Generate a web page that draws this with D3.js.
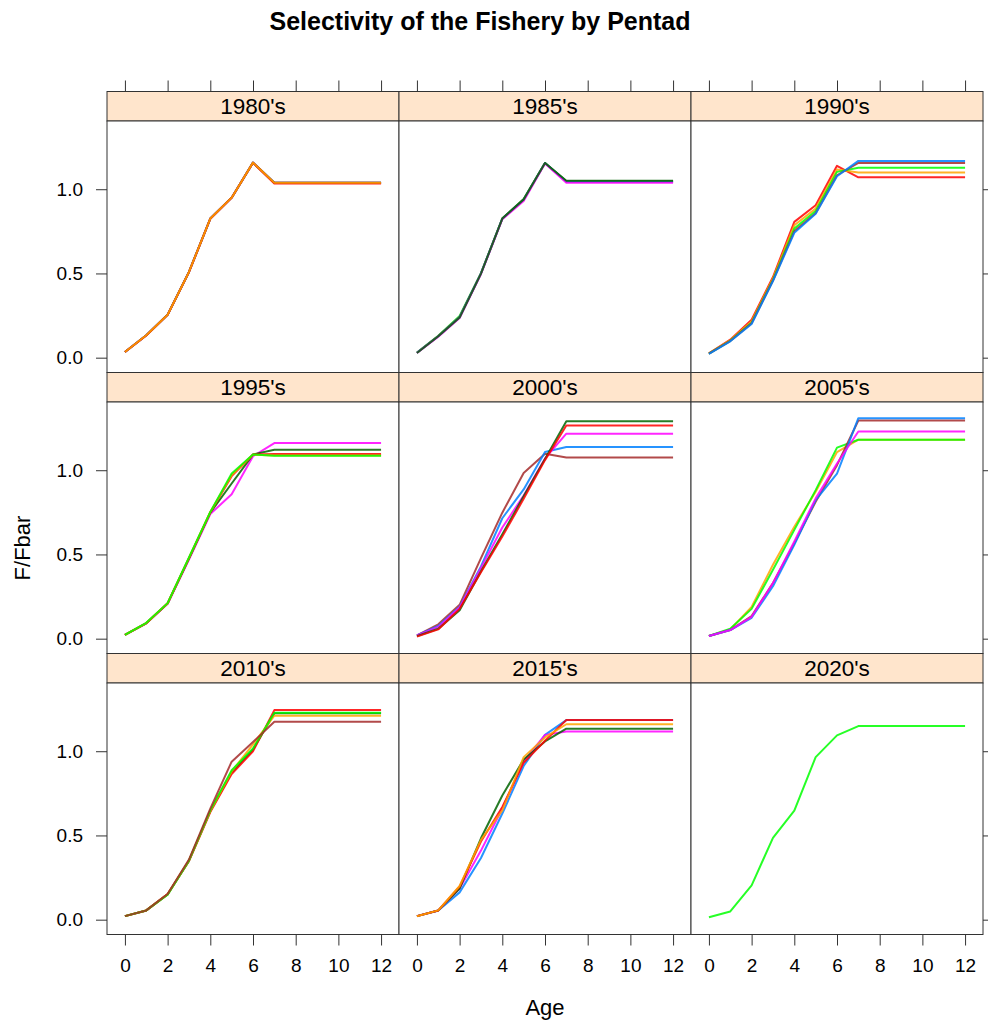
<!DOCTYPE html>
<html><head><meta charset="utf-8">
<script src="https://cdn.jsdelivr.net/npm/d3@7"></script>
<style>
body{margin:0;background:#fff}
text{font-family:"Liberation Sans",Arial,Helvetica,sans-serif}
</style>
</head><body>
<svg id="c" width="988" height="1025"></svg>
<script>
// ---------- data ----------
const ages = [0,1,2,3,4,5,6,7,8,9,10,11,12];
const pentads = ["1980's","1985's","1990's","1995's","2000's","2005's","2010's","2015's","2020's"];
const pentadStart = [1980,1985,1990,1995,2000,2005,2010,2015,2020];
const xTicks = [0,2,4,6,8,10,12];
const yTicks = [0,0.5,1.0];
const yTickLabels = ["0.0","0.5","1.0"];
const lineColors = ["#0080ff","#ff00ff","darkgreen","#ff0000","orange","#00ff00","brown"];

// F/Fbar by age (0..12), one row per year of the pentad
const sel1980s = [
  [0.034,0.133,0.255,0.509,0.826,0.950,1.158,1.038,1.038,1.038,1.038,1.038,1.038],
  [0.034,0.133,0.255,0.509,0.826,0.950,1.158,1.038,1.038,1.038,1.038,1.038,1.038],
  [0.034,0.133,0.255,0.509,0.826,0.950,1.158,1.038,1.038,1.038,1.038,1.038,1.038],
  [0.034,0.132,0.254,0.508,0.825,0.949,1.157,1.034,1.034,1.034,1.034,1.034,1.034],
  [0.034,0.133,0.255,0.509,0.826,0.950,1.158,1.038,1.038,1.038,1.038,1.038,1.038]
];
const sel1985s = [
  [0.030,0.130,0.248,0.502,0.826,0.942,1.156,1.048,1.048,1.048,1.048,1.048,1.048],
  [0.029,0.128,0.242,0.500,0.826,0.940,1.156,1.046,1.046,1.046,1.046,1.046,1.046],
  [0.029,0.127,0.240,0.500,0.825,0.938,1.155,1.044,1.044,1.044,1.044,1.044,1.044],
  [0.028,0.125,0.235,0.497,0.822,0.930,1.152,1.038,1.038,1.038,1.038,1.038,1.038],
  [0.028,0.127,0.238,0.499,0.826,0.939,1.156,1.050,1.050,1.050,1.050,1.050,1.050]
];
const sel1990s = [
  [0.026,0.107,0.226,0.479,0.806,0.905,1.139,1.071,1.071,1.071,1.071,1.071,1.071],
  [0.025,0.103,0.215,0.470,0.786,0.885,1.117,1.099,1.099,1.099,1.099,1.099,1.099],
  [0.024,0.100,0.208,0.462,0.766,0.871,1.103,1.127,1.127,1.127,1.127,1.127,1.127],
  [0.024,0.099,0.204,0.458,0.750,0.858,1.083,1.156,1.156,1.156,1.156,1.156,1.156],
  [0.023,0.097,0.200,0.455,0.741,0.855,1.077,1.168,1.168,1.168,1.168,1.168,1.168]
];
const sel1995s = [
  [0.022,0.091,0.207,0.470,0.740,0.858,1.083,1.161,1.161,1.161,1.161,1.161,1.161],
  [0.022,0.091,0.209,0.475,0.748,0.921,1.093,1.122,1.122,1.122,1.122,1.122,1.122],
  [0.022,0.092,0.210,0.478,0.750,0.965,1.093,1.096,1.096,1.096,1.096,1.096,1.096],
  [0.023,0.093,0.210,0.480,0.752,0.972,1.092,1.088,1.088,1.088,1.088,1.088,1.088],
  [0.023,0.094,0.211,0.482,0.752,0.980,1.093,1.086,1.086,1.086,1.086,1.086,1.086]
];
const sel2000s = [
  [0.020,0.085,0.201,0.478,0.748,0.984,1.098,1.075,1.075,1.075,1.075,1.075,1.075],
  [0.020,0.075,0.189,0.429,0.715,0.886,1.108,1.138,1.138,1.138,1.138,1.138,1.138],
  [0.020,0.070,0.185,0.420,0.660,0.850,1.070,1.217,1.217,1.217,1.217,1.217,1.217],
  [0.015,0.059,0.169,0.400,0.620,0.845,1.067,1.291,1.291,1.291,1.291,1.291,1.291],
  [0.012,0.055,0.177,0.395,0.606,0.830,1.060,1.266,1.266,1.266,1.266,1.266,1.266]
];
const sel2005s = [
  [0.016,0.055,0.189,0.439,0.665,0.872,1.108,1.181,1.181,1.181,1.181,1.181,1.181],
  [0.016,0.059,0.177,0.409,0.646,0.882,1.134,1.181,1.181,1.181,1.181,1.181,1.181],
  [0.016,0.051,0.134,0.330,0.567,0.813,1.030,1.295,1.295,1.295,1.295,1.295,1.295],
  [0.016,0.051,0.124,0.311,0.557,0.823,0.980,1.309,1.309,1.309,1.309,1.309,1.309],
  [0.016,0.051,0.130,0.330,0.577,0.833,1.040,1.230,1.230,1.230,1.230,1.230,1.230]
];
const sel2010s = [
  [0.021,0.055,0.150,0.350,0.645,0.875,1.010,1.225,1.225,1.225,1.225,1.225,1.225],
  [0.021,0.055,0.152,0.347,0.639,0.864,1.000,1.244,1.244,1.244,1.244,1.244,1.244],
  [0.021,0.055,0.150,0.352,0.645,0.880,1.040,1.211,1.211,1.211,1.211,1.211,1.211],
  [0.021,0.055,0.148,0.350,0.649,0.887,1.016,1.228,1.228,1.228,1.228,1.228,1.228],
  [0.021,0.055,0.152,0.357,0.659,0.938,1.055,1.175,1.175,1.175,1.175,1.175,1.175]
];
const sel2015s = [
  [0.021,0.055,0.162,0.366,0.630,0.912,1.097,1.185,1.185,1.185,1.185,1.185,1.185],
  [0.021,0.055,0.185,0.410,0.660,0.940,1.097,1.117,1.117,1.117,1.117,1.117,1.117],
  [0.021,0.055,0.185,0.483,0.737,0.951,1.058,1.134,1.134,1.134,1.134,1.134,1.134],
  [0.021,0.055,0.197,0.464,0.669,0.932,1.062,1.185,1.185,1.185,1.185,1.185,1.185],
  [0.020,0.055,0.200,0.474,0.649,0.965,1.082,1.160,1.160,1.160,1.160,1.160,1.160]
];
const sel2020s = [
  [0.014,0.049,0.204,0.486,0.647,0.965,1.094,1.149,1.149,1.149,1.149,1.149,1.149]
];
const panelSeries = [sel1980s,sel1985s,sel1990s,sel1995s,sel2000s,sel2005s,sel2010s,sel2015s,sel2020s];

// ---------- layout ----------
const svg = d3.select("#c");
const gridLeft = 107, colW = 292, gridTop = 91.5, rowH = 281, stripH = 29.5, panelH = rowH - stripH;
const axisCol = "#333";

const x = d3.scaleLinear().domain([-0.84, 12.84]).range([0, colW]);
const y = d3.scaleLinear().domain([-0.088, 1.405]).range([panelH, 0]);
const line = d3.line().x((d,i) => x(ages[i])).y(d => y(d));

function styleAxis(ax) {
  ax.select(".domain").remove();
  ax.selectAll(".tick line").attr("stroke", axisCol).attr("stroke-width",1);
  ax.selectAll(".tick text").attr("font-size",19).attr("fill","#000")
    .attr("font-family","Liberation Sans, Arial, sans-serif");
}

svg.append("text").attr("x", 480).attr("y", 30).attr("text-anchor","middle")
  .attr("font-size", 25).attr("font-weight","bold").attr("fill","#000")
  .text("Selectivity of the Fishery by Pentad");

pentads.forEach((name, k) => {
  const col = k % 3, row = Math.floor(k / 3);
  const gx = gridLeft + col * colW, gy = gridTop + row * rowH;
  const g = svg.append("g").attr("transform", `translate(${gx},${gy})`);
  // strip
  g.append("rect").attr("x",0).attr("y",0).attr("width",colW).attr("height",stripH)
    .attr("fill","#ffe5cc").attr("stroke",axisCol).attr("stroke-width",1);
  g.append("text").attr("x", colW/2).attr("y", stripH/2).attr("dy","0.36em")
    .attr("text-anchor","middle").attr("font-size",22.5).attr("fill","#000").text(name);
  // panel
  const p = g.append("g").attr("transform", `translate(0,${stripH})`);
  p.append("rect").attr("width",colW).attr("height",panelH).attr("fill","#fff");
  panelSeries[k].forEach((vals, j) => {
    const year = pentadStart[k] + j;
    p.append("path").datum(vals).attr("d", line).attr("fill","none")
      .attr("stroke", lineColors[(year - 1980) % 7]).attr("stroke-width", 2)
      .attr("stroke-linejoin","round").attr("stroke-opacity",0.85);
  });
  p.append("rect").attr("width",colW).attr("height",panelH).attr("fill","none")
    .attr("stroke",axisCol).attr("stroke-width",1);

  // axes
  if (col === 0) {
    const ax = p.append("g").call(d3.axisLeft(y).tickValues(yTicks).tickSize(11).tickPadding(13)
      .tickFormat((d,i) => yTickLabels[i]));
    styleAxis(ax);
  }
  if (col === 2) {
    const ax = p.append("g").attr("transform",`translate(${colW},0)`)
      .call(d3.axisRight(y).tickValues(yTicks).tickSize(11).tickFormat(""));
    styleAxis(ax);
  }
  if (row === 2) {
    const ax = p.append("g").attr("transform",`translate(0,${panelH})`)
      .call(d3.axisBottom(x).tickValues(xTicks).tickSize(11).tickPadding(13));
    styleAxis(ax);
  }
  if (row === 0) {
    const ax = g.append("g").call(d3.axisTop(x).tickValues(xTicks).tickSize(11).tickFormat(""));
    styleAxis(ax);
  }
});

svg.append("text").attr("transform","translate(30,548) rotate(-90)")
  .attr("text-anchor","middle").attr("font-size",22).attr("fill","#000").text("F/Fbar");
svg.append("text").attr("x",545).attr("y",1015).attr("text-anchor","middle")
  .attr("font-size",22).attr("fill","#000").text("Age");
</script>
</body></html>
